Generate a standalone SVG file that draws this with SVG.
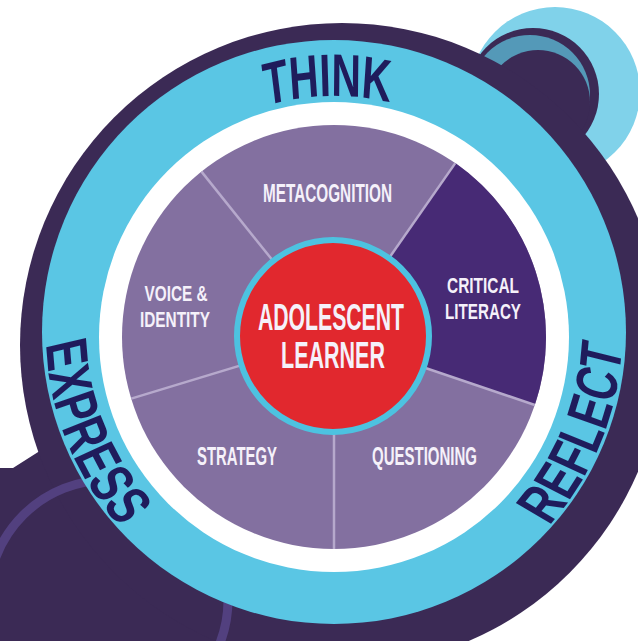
<svg xmlns="http://www.w3.org/2000/svg" width="638" height="641" viewBox="0 0 638 641">
<style>
.lbl{font-family:"Liberation Sans",Arial,sans-serif;font-weight:bold;fill:#f5f1fa;text-anchor:middle}
.ring{font-family:"Liberation Sans",Arial,sans-serif;font-weight:bold;font-size:60px;fill:#1f1c5c}
.div{stroke:#b6a9cc;stroke-width:2.5}
</style>
<defs>
<path id="pThink" d="M-350,0 A350,238 0 0 1 350,0"/>
<path id="pBottom" d="M-411,0 A411,288 0 0 0 411,0"/>
</defs>
<rect width="638" height="641" fill="#ffffff"/>
<g id="decor-top-right">
<circle cx="555" cy="92" r="85" fill="#80d2ea"/>
<circle cx="533" cy="94" r="66" fill="#3b2a55"/>
<circle cx="530" cy="95" r="60" fill="#5499b8"/>
<circle cx="538" cy="102" r="52" fill="#3b2a55"/>
</g>
<g id="decor-bottom-left">
<path d="M0,468 L13,468 L46,447 L260,560 L330,641 L0,641 Z" fill="#3b2a55"/>
</g>
<g id="outer-ring">
<circle cx="342" cy="345" r="322" fill="#3b2a55"/>
<circle cx="108" cy="600" r="120" fill="none" stroke="#52407f" stroke-width="9"/>
<circle cx="334" cy="332" r="292" fill="#5ac6e4"/>
<circle cx="334" cy="337" r="235" fill="#ffffff"/>
</g>
<g id="ring-labels">
<text id="think" class="ring" transform="translate(334,334) rotate(-1.5) scale(0.68,1)"><textPath href="#pThink" startOffset="50%" text-anchor="middle">THINK</textPath></text>
<text id="express" class="ring" transform="translate(334,334) rotate(68) scale(0.7,1)"><textPath href="#pBottom" startOffset="50%" text-anchor="middle">EXPRESS</textPath></text>
<text id="reflect" class="ring" transform="translate(334,334) rotate(-67.7) scale(0.7,1)"><textPath href="#pBottom" startOffset="50%" text-anchor="middle">REFLECT</textPath></text>
</g>
<g id="pie">
<circle cx="334" cy="337" r="212" fill="#8370a0"/>
<path id="seg-critical" d="M334,337 L455.3,163.1 A212,212 0 0 1 534.8,405 Z" fill="#472a75"/>
</g>
<g id="connectors">
<line class="div" x1="334" y1="337" x2="201.5" y2="171.6"/>
<line class="div" x1="334" y1="337" x2="455.3" y2="163.1"/>
<line class="div" x1="334" y1="337" x2="534.8" y2="405"/>
<line class="div" x1="334" y1="337" x2="334" y2="549"/>
<line class="div" x1="334" y1="337" x2="131.2" y2="398.6"/>
</g>
<g id="node-metacognition">
<text class="lbl" x="327.5" y="202" font-size="25" textLength="129" lengthAdjust="spacingAndGlyphs">METACOGNITION</text>
</g>
<g id="node-voice-identity">
<text class="lbl" font-size="22"><tspan x="176" y="301" textLength="63" lengthAdjust="spacingAndGlyphs">VOICE &amp;</tspan><tspan x="175" y="327" textLength="70" lengthAdjust="spacingAndGlyphs">IDENTITY</tspan></text>
</g>
<g id="node-critical-literacy">
<text class="lbl" font-size="22"><tspan x="483" y="293" textLength="72" lengthAdjust="spacingAndGlyphs">CRITICAL</tspan><tspan x="483" y="319" textLength="76" lengthAdjust="spacingAndGlyphs">LITERACY</tspan></text>
</g>
<g id="node-strategy">
<text class="lbl" x="237" y="465" font-size="25" textLength="80" lengthAdjust="spacingAndGlyphs">STRATEGY</text>
</g>
<g id="node-questioning">
<text class="lbl" x="424.5" y="465" font-size="25" textLength="105" lengthAdjust="spacingAndGlyphs">QUESTIONING</text>
</g>
<g id="node-adolescent-learner">
<circle cx="333" cy="336" r="96" fill="#e1282e" stroke="#4dc2e0" stroke-width="6"/>
<text class="lbl" font-size="37" fill="#ffffff"><tspan x="331" y="330" textLength="146" lengthAdjust="spacingAndGlyphs">ADOLESCENT</tspan><tspan x="333" y="368" textLength="104" lengthAdjust="spacingAndGlyphs">LEARNER</tspan></text>
</g>
</svg>
